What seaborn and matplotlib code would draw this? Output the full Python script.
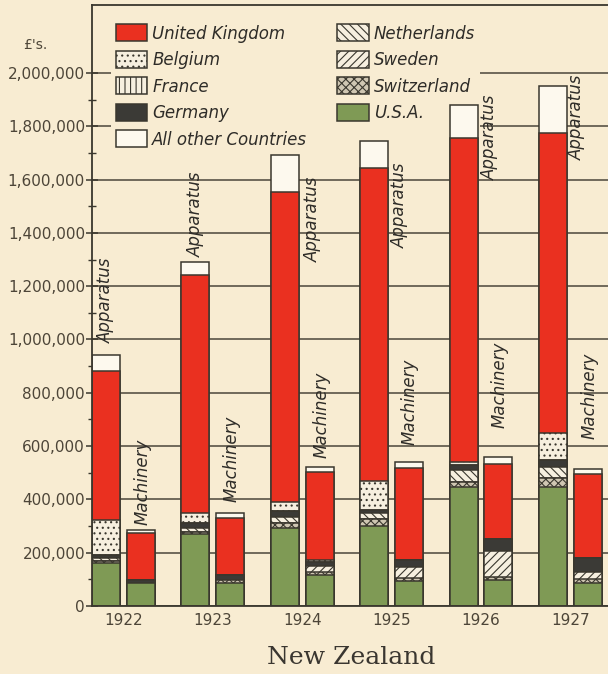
import numpy as np
import pandas as pd
import matplotlib.pyplot as plt
import seaborn as sns
from matplotlib.patches import Patch
from matplotlib.ticker import FixedLocator, FuncFormatter

years = ["1922", "1923", "1924", "1925", "1926", "1927"]
kinds = ["Apparatus", "Machinery"]

# thousands of £; listed bottom -> top of each stack
usa_app = [160, 270, 292, 300, 445, 445]
usa_mach = [85, 88, 116, 95, 98, 85]
switzerland_app = [8, 8, 18, 25, 21, 34]
switzerland_mach = [0, 8, 10, 9, 10, 15]
sweden_app = [0, 0, 0, 0, 0, 0]
sweden_mach = [0, 0, 25, 41, 100, 29]
netherlands_app = [12, 15, 25, 23, 44, 44]
netherlands_mach = [0, 0, 0, 0, 0, 0]
germany_app = [13, 20, 23, 12, 19, 25]
germany_mach = [13, 20, 15, 28, 42, 50]
france_app = [0, 0, 0, 0, 0, 0]
france_mach = [0, 0, 0, 0, 0, 0]
belgium_app = [131, 35, 33, 109, 12, 100]
belgium_mach = [0, 0, 8, 0, 0, 0]
uk_app = [557, 894, 1162, 1174, 1215, 1127]
uk_mach = [175, 213, 329, 346, 283, 316]
other_app = [62, 50, 139, 102, 124, 176]
other_mach = [12, 19, 17, 20, 25, 18]

countries = ["U.S.A.", "Switzerland", "Sweden", "Netherlands", "Germany",
             "France", "Belgium", "United Kingdom", "All other Countries"]
values = {
    "U.S.A.": (usa_app, usa_mach),
    "Switzerland": (switzerland_app, switzerland_mach),
    "Sweden": (sweden_app, sweden_mach),
    "Netherlands": (netherlands_app, netherlands_mach),
    "Germany": (germany_app, germany_mach),
    "France": (france_app, france_mach),
    "Belgium": (belgium_app, belgium_mach),
    "United Kingdom": (uk_app, uk_mach),
    "All other Countries": (other_app, other_mach),
}

edge = "#3a372e"
paper = "#f8ecd2"
styles = {
    "U.S.A.": ("#7f9a55", ""),
    "Switzerland": ("#cfc6b2", "xxxx"),
    "Sweden": ("#f6efdf", "////"),
    "Netherlands": ("#f6efdf", "\\\\\\\\"),
    "Germany": ("#3b3a36", ""),
    "France": ("#f6efdf", "|||"),
    "Belgium": ("#f6efdf", "..."),
    "United Kingdom": ("#ea3020", ""),
    "All other Countries": ("#fdf9ee", ""),
}

rows = []
for c in countries:
    for k, vals in zip(kinds, values[c]):
        for y, v in zip(years, vals):
            rows.append({"year": y, "kind": k, "country": c, "value": v * 1000})
df = pd.DataFrame(rows)
df["country"] = pd.Categorical(df["country"], countries, ordered=True)
df = df.sort_values(["year", "kind", "country"])
df["cum"] = df.groupby(["year", "kind"])["value"].cumsum()

sns.set_theme(style="ticks")
plt.rcParams["font.family"] = ["DejaVu Sans"]
plt.rcParams["hatch.linewidth"] = 0.8

fig = plt.figure(figsize=(6.08, 6.74), dpi=100, facecolor=paper)
ax = fig.add_axes([92 / 608, 68 / 674, 1 - 92 / 608, (669 - 68) / 674])
ax.set_facecolor(paper)

# draw cumulative totals top layer first, each lower layer on top of it
for c in reversed(countries):
    color, hatch = styles[c]
    sns.barplot(data=df[df["country"] == c], x="year", y="cum", hue="kind",
                order=years, hue_order=kinds,
                palette={k: color for k in kinds}, saturation=1,
                width=0.78, gap=0.2, dodge=True, errorbar=None, legend=False,
                hatch=hatch, edgecolor=edge, linewidth=1.1, ax=ax)

ax.set_xlim(-0.35, 5.42)
ax.set_ylim(0, 2255000)
ax.set_xlabel("")
ax.set_ylabel("")

ax.yaxis.set_major_locator(FixedLocator(range(0, 2000001, 200000)))
ax.yaxis.set_minor_locator(FixedLocator(range(100000, 2000000, 200000)))
ax.yaxis.set_major_formatter(FuncFormatter(lambda v, p: f"{int(v):,}"))
ax.tick_params(axis="y", which="major", direction="inout", length=8, width=1.1,
               color=edge, labelsize=11, labelcolor="#4d4538", pad=1)
ax.tick_params(axis="y", which="minor", direction="inout", length=6, width=1.0, color=edge)
ax.tick_params(axis="x", length=0, labelsize=11, labelcolor="#4d4538", pad=5)

ax.set_axisbelow(True)
ax.yaxis.grid(True, which="major", color="#4b463a", lw=1.1)
ax.xaxis.grid(False)
for s in ["left", "bottom", "top"]:
    ax.spines[s].set_color(edge)
    ax.spines[s].set_linewidth(1.3)
ax.spines["right"].set_visible(False)

# rotated bar captions
app_pos = [(-0.20, 985000), (0.81, 1310000), (2.12, 1290000),
           (3.09, 1345000), (4.10, 1600000), (5.07, 1675000)]
mach_pos = [(0.22, 305000), (1.21, 390000), (2.22, 555000),
            (3.20, 605000), (4.21, 668000), (5.21, 625000)]
for (x, y) in app_pos:
    ax.text(x, y, "Apparatus", rotation=90, ha="center", va="bottom",
            fontsize=12, fontstyle="italic", color="#2e2c28")
for (x, y) in mach_pos:
    ax.text(x, y, "Machinery", rotation=90, ha="center", va="bottom",
            fontsize=12, fontstyle="italic", color="#2e2c28")

legend_order = ["United Kingdom", "Belgium", "France", "Germany", "All other Countries",
                "Netherlands", "Sweden", "Switzerland", "U.S.A."]
handles = [Patch(facecolor=styles[c][0], hatch=styles[c][1], edgecolor=edge,
                 linewidth=1.1, label=c) for c in legend_order]
leg = ax.legend(handles=handles, ncol=2, loc="upper left",
                bbox_to_anchor=(0.02, 0.99), frameon=True, facecolor=paper,
                edgecolor="none", framealpha=1, fontsize=12, borderpad=0.3,
                handlelength=1.9, handleheight=1.2, handletextpad=0.3,
                labelspacing=0.5, columnspacing=1.8)
# legend background hides the grid but sits under the bars
leg.set_zorder(0.8)
for t in leg.get_texts():
    t.set_fontstyle("italic")
    t.set_color("#2e2c28")

fig.text(35 / 608, 1 - 45 / 674, "£'s.", ha="center", va="center",
         fontsize=10, color="#4d4538")
fig.text(351 / 608, 1 - 657 / 674, "New Zealand", ha="center", va="center",
         fontsize=18, family="DejaVu Serif", color="#3a3630")

fig.savefig("out.png", dpi=100, facecolor=paper)
